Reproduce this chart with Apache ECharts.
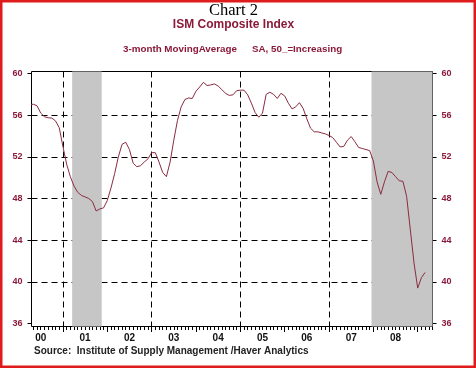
<!DOCTYPE html>
<html><head><meta charset="utf-8">
<script src="https://cdn.jsdelivr.net/npm/echarts@6/dist/echarts.min.js"></script>
<style>html,body{margin:0;padding:0;background:#fff}#c{width:476px;height:368px}</style>
</head><body><div id="c"></div>
<script>
// months counted from Jan 2000 = 0; first value is Apr 2000
const firstMonth = 3;
const ismValues = [
  57.0, 57.05, 56.9, 56.2, 55.85, 55.75, 55.72, 55.45, 54.8,            // 2000 Apr-Dec
  53.0, 51.3, 50.1, 49.2, 48.6, 48.3, 48.15, 48.0, 47.7, 46.8, 47.0, 47.1, // 2001
  47.8, 49.0, 50.4, 52.0, 53.2, 53.4, 52.7, 51.4, 51.05, 51.15, 51.5, 51.8, // 2002
  52.4, 52.4, 51.5, 50.5, 50.1, 51.5, 53.6, 55.5, 56.8, 57.5, 57.65, 57.6, // 2003
  58.3, 58.7, 59.15, 58.85, 58.9, 59.0, 58.8, 58.45, 58.1, 57.9, 57.95, 58.35, // 2004
  58.4, 58.4, 57.95, 57.15, 56.25, 55.8, 56.2, 58.0, 58.2, 58.0, 57.6, 58.1, // 2005
  57.85, 57.15, 56.6, 56.8, 57.2, 56.65, 55.65, 54.75, 54.4, 54.4, 54.3, 54.2, // 2006
  54.05, 53.85, 53.4, 52.95, 53.0, 53.6, 53.95, 53.45, 52.9, 52.8, 52.7, 52.6, // 2007
  51.6, 49.6, 48.4, 49.6, 50.6, 50.5, 50.1, 49.7, 49.65, 48.2, 45.0, 41.8, // 2008
  39.4, 40.4, 40.9                                                       // 2009 Jan-Mar
];
const yearLabels = ['00','01','02','03','04','05','06','07','08'];
const yMin = 36, yMax = 60, yStep = 4;
// recession periods [first month, last month]; null = ongoing
const recessions = [[14, 22], [95, null]];

const H = 368, Wd = 476;
const axisMinMonth = 3.5, axisMaxMonth = 112;
const gLeft = 31.5, gRight = 43.5;           // plot box horizontal bounds
const dTop = 73.5, dBottomY = 323.5;          // value range 60..36
const bTop = 71.5, bBottomY = 326.5;          // frame box
const gW = Wd - gLeft - gRight;
const kx = gW / (axisMaxMonth - axisMinMonth);
const px = t => gLeft + (t - axisMinMonth) * kx;
const plotRightX = Wd - gRight;

const seriesData = ismValues.map((v, i) => [firstMonth + i, v]);
const areas = recessions.map(r => [
  { xAxis: r[0] + 0.5 },
  { xAxis: r[1] == null ? axisMaxMonth : r[1] + 0.5 }
]);

const red = '#8b1a3a';
const off = { show: false };
const hiddenY = gi => ({ type: 'value', gridIndex: gi, min: yMin, max: yMax, show: false });
const hiddenX = gi => ({ type: 'value', gridIndex: gi, min: 0, max: 1, show: false });
const solidTick = { show: true, lineStyle: { color: '#000', width: 1, type: 'solid' } };
const dashed = { show: true, lineStyle: { color: '#000', width: 1, type: [6, 4] } };
const yLabel = { margin: 9, color: red, fontSize: 9, fontWeight: 'bold', fontFamily: 'Liberation Sans, Arial, sans-serif' };

const option = {
  animation: false,
  backgroundColor: '#fff',
  grid: [
    // 0: data grid (60 at top, 36 at bottom)
    { left: gLeft, right: gRight, top: dTop, bottom: H - dBottomY },
    // 1: frame box + recession shading
    { left: gLeft, right: gRight, top: bTop, bottom: H - bBottomY, show: true, borderColor: '#000', borderWidth: 1, backgroundColor: 'transparent' },
    // 2: monthly tick strip
    { left: px(4), right: Wd - px(112), top: bBottomY, bottom: H - bBottomY - 3.5 },
    // 3: yearly tick strip
    { left: px(12), right: Wd - px(108), top: bBottomY, bottom: H - bBottomY - 5.5 },
    // 4: year labels
    { left: px(6), right: Wd - px(102), top: dTop, bottom: H - dBottomY },
    // 5: dashed vertical year lines
    { left: px(12), right: Wd - px(108), top: bTop, bottom: H - bBottomY },
    // 6, 7: left / right value ticks
    { left: gLeft - 4, right: Wd - gLeft, top: dTop, bottom: H - dBottomY },
    { left: plotRightX, right: Wd - plotRightX - 4, top: dTop, bottom: H - dBottomY }
  ],
  xAxis: [
    { type: 'value', gridIndex: 0, min: axisMinMonth, max: axisMaxMonth, axisLine: off, axisTick: off, axisLabel: off, splitLine: off },
    { type: 'value', gridIndex: 1, min: axisMinMonth, max: axisMaxMonth, axisLine: off, axisTick: off, axisLabel: off, splitLine: off },
    { type: 'value', gridIndex: 2, min: 4, max: 112, interval: 1, axisLine: off, axisTick: off, axisLabel: off, splitLine: solidTick },
    { type: 'value', gridIndex: 3, min: 0, max: 96, interval: 12, axisLine: off, axisTick: off, axisLabel: off, splitLine: solidTick },
    { type: 'value', gridIndex: 4, min: 0, max: 96, interval: 12, axisLine: off, axisTick: off, splitLine: off,
      axisLabel: { show: true, margin: 10, color: '#111', fontSize: 10, fontWeight: 'bold', fontFamily: 'Liberation Sans, Arial, sans-serif', formatter: v => yearLabels[Math.round(v / 12)] } },
    { type: 'value', gridIndex: 5, min: 0, max: 96, interval: 24, axisLine: off, axisTick: off, axisLabel: off, splitLine: dashed },
    hiddenX(6), hiddenX(7)
  ],
  yAxis: [
    { type: 'value', gridIndex: 0, position: 'left', min: yMin, max: yMax, interval: yStep,
      axisLine: off, axisTick: off, axisLabel: yLabel,
      splitLine: { show: true, showMinLine: false, showMaxLine: false, lineStyle: { color: '#000', width: 1, type: [6, 4] } } },
    { type: 'value', gridIndex: 0, position: 'right', min: yMin, max: yMax, interval: yStep,
      axisLine: off, axisTick: off, axisLabel: yLabel, splitLine: off },
    { type: 'value', gridIndex: 1, min: 0, max: 1, show: false },
    hiddenY(2), hiddenY(3), hiddenY(4), hiddenY(5),
    { type: 'value', gridIndex: 6, min: yMin, max: yMax, interval: yStep, axisLine: off, axisTick: off, axisLabel: off, splitLine: solidTick },
    { type: 'value', gridIndex: 7, min: yMin, max: yMax, interval: yStep, axisLine: off, axisTick: off, axisLabel: off, splitLine: solidTick }
  ],
  series: [
    { type: 'line', xAxisIndex: 1, yAxisIndex: 2, data: [], z: -1, silent: true,
      markArea: { silent: true, itemStyle: { color: '#c6c6c6', opacity: 1 }, data: areas } },
    { type: 'line', xAxisIndex: 0, yAxisIndex: 0, data: seriesData, symbol: 'none', clip: true,
      lineStyle: { color: '#8a2c40', width: 1 }, z: 3 }
  ],
  graphic: [
    { type: 'text', x: 233.5, y: 10.5, style: { text: 'Chart 2', fill: '#000', font: '16.5px "Liberation Serif", "Times New Roman", serif', textAlign: 'center', textVerticalAlign: 'middle' } },
    { type: 'text', x: 233.5, y: 25, style: { text: 'ISM Composite Index', fill: red, font: 'bold 12px "Liberation Sans", Arial, sans-serif', textAlign: 'center', textVerticalAlign: 'middle' } },
    { type: 'text', x: 123, y: 49, style: { text: '3-month MovingAverage', fill: red, font: 'bold 9.8px "Liberation Sans", Arial, sans-serif', textAlign: 'left', textVerticalAlign: 'middle' } },
    { type: 'text', x: 252, y: 49, style: { text: 'SA, 50_=Increasing', fill: red, font: 'bold 9.8px "Liberation Sans", Arial, sans-serif', textAlign: 'left', textVerticalAlign: 'middle' } },
    { type: 'text', x: 34, y: 351, style: { text: 'Source:  Institute of Supply Management /Haver Analytics', fill: '#222', font: 'bold 10px "Liberation Sans", Arial, sans-serif', textAlign: 'left', textVerticalAlign: 'middle' } },
    { type: 'rect', shape: { x: 0, y: 0, width: Wd, height: H }, style: { fill: 'none', stroke: '#e01b1b', lineWidth: 5 }, z: 100 }
  ]
};
echarts.init(document.getElementById('c'), null, { renderer: 'canvas' }).setOption(option);
</script>
</body></html>
